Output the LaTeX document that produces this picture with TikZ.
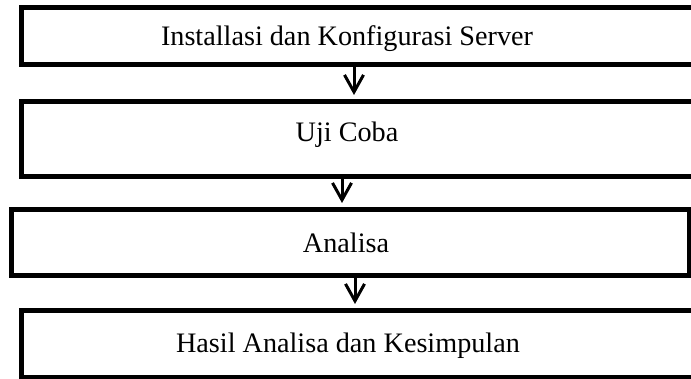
\documentclass[tikz,border=0pt]{standalone}
\usepackage{fontspec}
\setmainfont{Liberation Serif}
\usetikzlibrary{arrows.meta}
\begin{document}
\begin{tikzpicture}[x=1pt,y=1pt,
    stepbox/.style={draw,rectangle,line width=5pt,minimum height=57pt,inner sep=0pt},
    steptext/.style={font=\fontsize{28.2}{33}\selectfont,inner sep=0pt},
    flow/.style={line width=3pt,-{Straight Barb[length=17pt,width=19pt]},shorten >=4pt}]
  \useasboundingbox (0,0) rectangle (691,379);

  \node[stepbox,minimum width=678.5pt] (b1) at (360.75,343) {};
  \node[steptext] (t1) at (347,340) {Installasi dan Konfigurasi Server};

  \node[stepbox,minimum width=678.5pt,minimum height=75pt] (b2) at (360.75,240) {};
  \node[steptext] (t2) at (347,244) {Uji Coba};

  \node[stepbox,minimum width=677.5pt,minimum height=66pt] (b3) at (350.25,136.5) {};
  \node[steptext] (t3) at (346,136) {Analisa};

  \node[stepbox,minimum width=678.5pt,minimum height=67pt] (b4) at (360.75,35) {};
  \node[steptext] (t4) at (348,33) {Hasil Analisa dan Kesimpulan};

  \draw[flow] ([xshift=-6.75pt]b1.south) to ([xshift=-6.75pt]b1.south |- b2.north);
  \draw[flow] ([xshift=-18.75pt]b2.south) to ([xshift=-18.75pt]b2.south |- b3.north);
  \draw[flow] ([xshift=4.75pt]b3.south) to ([xshift=4.75pt]b3.south |- b4.north);

\end{tikzpicture}
\end{document}
